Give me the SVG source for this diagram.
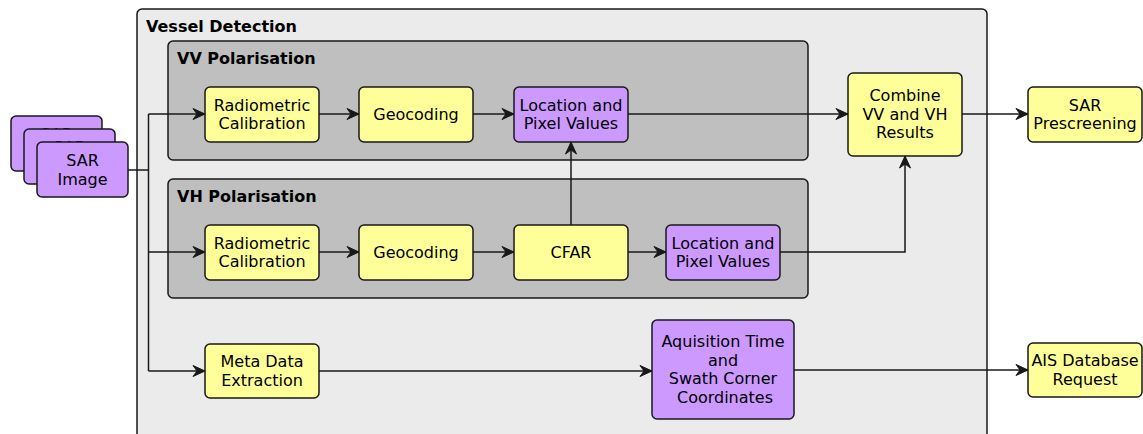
<svg xmlns="http://www.w3.org/2000/svg" width="1143" height="434" viewBox="0 0 1143 434">
<defs>
<style>
.grp{stroke:#181818;stroke-width:1.5}
.outer{fill:#EBEBEB}
.inner{fill:#BFBFBF}
.y{fill:#FFFF99;stroke:#181818;stroke-width:1.5}
.p{fill:#CC99FF;stroke:#181818;stroke-width:1.5}
text{font-family:"DejaVu Sans",sans-serif;font-size:16px;fill:#000}
.t{text-anchor:middle}
.b{font-weight:bold}
.c{fill:none;stroke:#181818;stroke-width:1.5}
</style>
<marker id="ah" markerUnits="userSpaceOnUse" markerWidth="14" markerHeight="13" viewBox="-13 -6.5 14 13" refX="0" refY="0" orient="auto">
<path d="M0,0 L-12,-5.5 L-8,0 L-12,5.5 Z" fill="#181818" stroke="#181818" stroke-width="1"/>
</marker>
<clipPath id="clip2"><rect x="11" y="116" width="13" height="55"/><rect x="24" y="116" width="78" height="13"/></clipPath>
<clipPath id="clip1"><rect x="24" y="129" width="13" height="55"/><rect x="37" y="129" width="78" height="13"/></clipPath>
</defs>
<rect width="1143" height="434" fill="#FFFFFF"/>

<g id="vessel-detection">
<rect class="grp outer" x="137" y="9" width="850" height="440" rx="5"/>
<text class="b" x="146" y="32">Vessel Detection</text>
</g>
<g id="vv-polarisation">
<rect class="grp inner" x="168" y="41" width="640" height="119" rx="5"/>
<text class="b" x="177" y="64">VV Polarisation</text>
</g>
<g id="vh-polarisation">
<rect class="grp inner" x="168" y="179" width="640" height="119" rx="5"/>
<text class="b" x="177" y="202">VH Polarisation</text>
</g>

<g id="sar-image">
<rect class="p" x="11" y="116" width="91" height="55" rx="5"/>
<text class="t" x="56.5" y="140" clip-path="url(#clip2)">SAR</text>
<rect class="p" x="24" y="129" width="91" height="55" rx="5"/>
<text class="t" x="69.5" y="153" clip-path="url(#clip1)">SAR</text>
<rect class="p" x="37" y="142" width="91" height="55" rx="5"/>
<text class="t" x="82.5" y="166">SAR</text>
<text class="t" x="82.5" y="184.5">Image</text>
</g>

<g id="vv-radiometric">
<rect class="y" x="205" y="87" width="114" height="55" rx="5"/>
<text class="t" x="262" y="110.5">Radiometric</text>
<text class="t" x="262" y="129">Calibration</text>
</g>
<g id="vv-geocoding">
<rect class="y" x="359" y="87" width="114" height="55" rx="5"/>
<text class="t" x="416" y="120">Geocoding</text>
</g>
<g id="vv-location">
<rect class="p" x="514" y="87" width="114" height="55" rx="5"/>
<text class="t" x="571" y="110.5">Location and</text>
<text class="t" x="571" y="129">Pixel Values</text>
</g>

<g id="vh-radiometric">
<rect class="y" x="205" y="225" width="114" height="55" rx="5"/>
<text class="t" x="262" y="248.5">Radiometric</text>
<text class="t" x="262" y="267">Calibration</text>
</g>
<g id="vh-geocoding">
<rect class="y" x="359" y="225" width="114" height="55" rx="5"/>
<text class="t" x="416" y="258">Geocoding</text>
</g>
<g id="cfar">
<rect class="y" x="514" y="225" width="114" height="55" rx="5"/>
<text class="t" x="571" y="258">CFAR</text>
</g>
<g id="vh-location">
<rect class="p" x="666" y="225" width="114" height="55" rx="5"/>
<text class="t" x="723" y="248.5">Location and</text>
<text class="t" x="723" y="267">Pixel Values</text>
</g>

<g id="combine">
<rect class="y" x="848" y="73" width="114" height="83" rx="5"/>
<text class="t" x="905" y="101">Combine</text>
<text class="t" x="905" y="119.5">VV and VH</text>
<text class="t" x="905" y="138">Results</text>
</g>
<g id="sar-prescreening">
<rect class="y" x="1028" y="87" width="114" height="55" rx="5"/>
<text class="t" x="1085" y="110.5">SAR</text>
<text class="t" x="1085" y="129">Prescreening</text>
</g>

<g id="meta-data">
<rect class="y" x="205" y="344" width="114" height="54" rx="5"/>
<text class="t" x="262" y="367">Meta Data</text>
<text class="t" x="262" y="385.5">Extraction</text>
</g>
<g id="acquisition">
<rect class="p" x="652" y="320" width="142" height="99" rx="5"/>
<text class="t" x="723" y="347">Aquisition Time</text>
<text class="t" x="723" y="365.5">and</text>
<text class="t" x="723" y="384">Swath Corner</text>
<text class="t" x="725" y="402.5">Coordinates</text>
</g>
<g id="ais">
<rect class="y" x="1028" y="343" width="114" height="54" rx="5"/>
<text class="t" x="1085" y="366">AIS Database</text>
<text class="t" x="1085" y="384.5">Request</text>
</g>

<g id="connectors">
<path class="c" d="M128,170 H148.5"/>
<path class="c" d="M148.5,114 V371"/>
<path class="c" d="M148.5,114 H205" marker-end="url(#ah)"/>
<path class="c" d="M148.5,252 H205" marker-end="url(#ah)"/>
<path class="c" d="M148.5,371 H205" marker-end="url(#ah)"/>
<path class="c" d="M319,114 H359" marker-end="url(#ah)"/>
<path class="c" d="M473,114 H514" marker-end="url(#ah)"/>
<path class="c" d="M319,252 H359" marker-end="url(#ah)"/>
<path class="c" d="M473,252 H514" marker-end="url(#ah)"/>
<path class="c" d="M628,252 H666" marker-end="url(#ah)"/>
<path class="c" d="M571,225 V142" marker-end="url(#ah)"/>
<path class="c" d="M628,114 H848" marker-end="url(#ah)"/>
<path class="c" d="M780,252 H905 V156" marker-end="url(#ah)"/>
<path class="c" d="M962,114 H1028" marker-end="url(#ah)"/>
<path class="c" d="M319,371 H652" marker-end="url(#ah)"/>
<path class="c" d="M794,370 H1028" marker-end="url(#ah)"/>
</g>
</svg>
